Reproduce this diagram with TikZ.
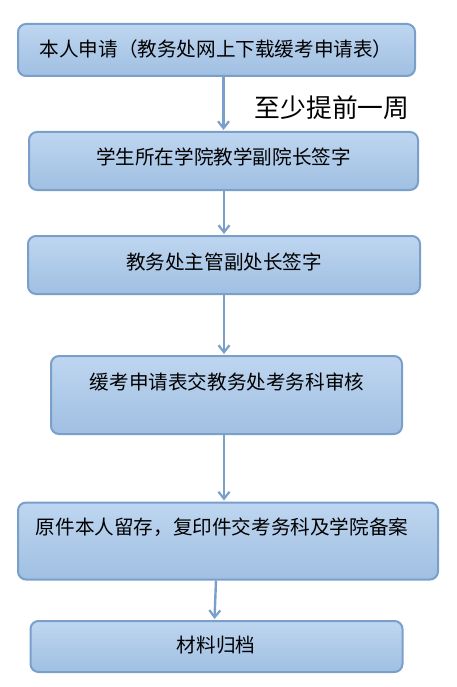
\documentclass[tikz,border=0pt]{standalone}
\usepackage{fontspec}
\setmainfont{Noto Sans CJK SC}
\usetikzlibrary{arrows.meta,calc}
\definecolor{boxline}{HTML}{7A9FCB}
\definecolor{boxtop}{HTML}{BED6F0}
\definecolor{boxbot}{HTML}{A0BFE2}
\definecolor{arrowc}{HTML}{7A9FCB}
\tikzset{
  stepbox/.style={draw=boxline, line width=2pt, rounded corners=8pt,
    top color=boxtop, bottom color=boxbot, inner sep=0pt},
  boxtext/.style={font=\fontsize{19.6}{23}\selectfont, text=black, inner sep=0pt},
  flowarrow/.style={draw=arrowc, line width=2.4pt,
    -{Straight Barb[length=7pt,width=11pt,line width=2.2pt]}}
}
\begin{document}
\begin{tikzpicture}[x=1pt,y=-1pt]
\useasboundingbox (0,0) rectangle (456,687);
\node[stepbox, minimum width=397, minimum height=52] (b1) at (216.5,50) {};
\node[stepbox, minimum width=389, minimum height=58] (b2) at (223.5,161) {};
\node[stepbox, minimum width=392, minimum height=58] (b3) at (224,265) {};
\node[stepbox, minimum width=351, minimum height=78] (b4) at (226.5,395) {};
\node[stepbox, minimum width=420, minimum height=77] (b5) at (228,541) {};
\node[stepbox, minimum width=372, minimum height=51] (b6) at (216.5,646.5) {};

\node[boxtext] (t1) at (216,49) {本人申请（教务处网上下载缓考申请表）};
\node[boxtext] (t2) at (223.5,157) {学生所在学院教学副院长签字};
\node[boxtext] (t3) at (224,262) {教务处主管副处长签字};
\node[boxtext] (t4) at (227,382) {缓考申请表交教务处考务科审核};
\node[boxtext] (t5) at (222,527) {原件本人留存，复印件交考务科及学院备案};
\node[boxtext] (t6) at (216,645) {材料归档};

\node[font=\fontsize{25.8}{30}\selectfont, inner sep=0pt] (lab) at (332,108) {至少提前一周};

\draw[flowarrow] (b2.north |- b1.south) -- ($(b2.north)+(0,-1)$);
\draw[flowarrow] (b3.north |- b2.south) -- ($(b3.north)+(0,-1)$);
\draw[flowarrow] (b3.south) -- ($(b3.south |- b4.north)+(0,-1)$);
\draw[flowarrow] (b3.south |- b4.south) -- ($(b3.south |- b5.north)+(0,-1)$);
\draw[flowarrow] ($(b5.south)+(-12,0)$) -- ($(b6.north)+(-2,-1)$);
\end{tikzpicture}
\end{document}
